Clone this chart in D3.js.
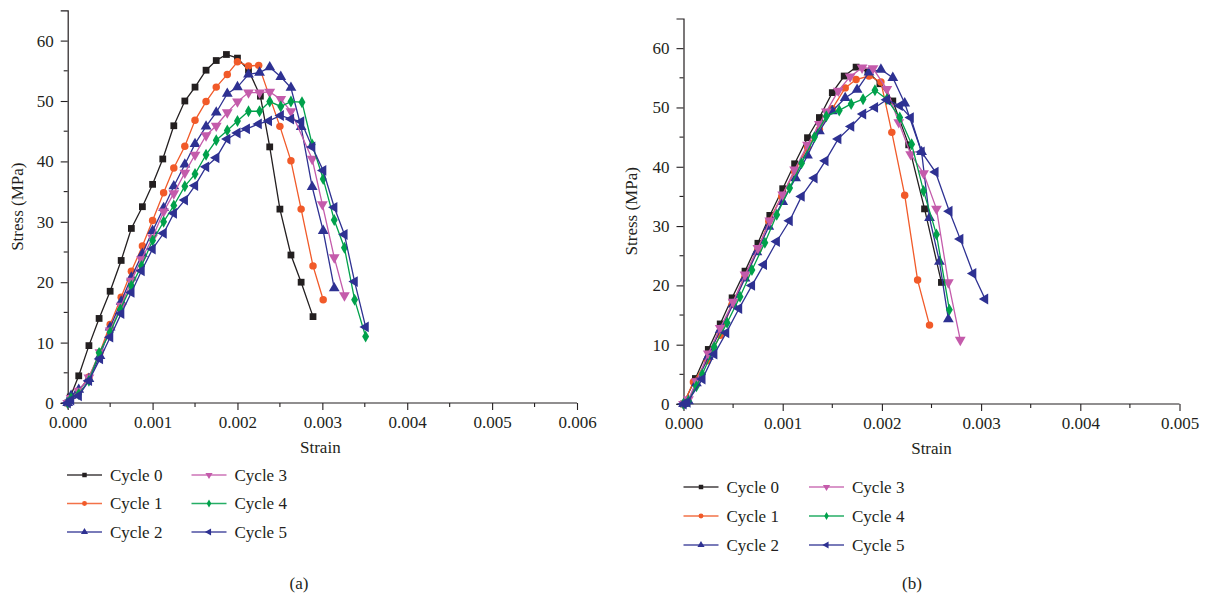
<!DOCTYPE html>
<html lang="en">
<head>
<meta charset="UTF-8">
<title>Stress-strain cycles</title>
<script src="https://d3js.org/d3.v7.min.js"></script>
<style>
  body { margin: 0; background: #fff; }
  svg { display: block; }
  svg text { font-family: "Liberation Serif", "Times New Roman", Times, "DejaVu Serif", serif !important; fill: #231f20; }
</style>
</head>
<body>
<svg id="chart" width="1207" height="597"></svg>
<script>
// ---- data ----
var cycleNames = ["Cycle 0", "Cycle 1", "Cycle 2", "Cycle 3", "Cycle 4", "Cycle 5"];
var cycleColors = ["#231f20", "#f15a29", "#2e3192", "#c45bab", "#00a14b", "#2e3192"];
var cycleSymbols = ["square", "circle", "triUp", "triDown", "diamond", "triLeft"];

var xTicksA = [0, 0.001, 0.002, 0.003, 0.004, 0.005, 0.006];
var xTicksB = [0, 0.001, 0.002, 0.003, 0.004, 0.005];
var yTicks = [0, 10, 20, 30, 40, 50, 60];

// (a)  [strain, stress MPa]
var a0 = [[0,0],[0.00003,1.0],[0.00013,4.5],[0.00025,9.5],[0.00037,14.0],[0.0005,18.5],[0.00063,23.6],[0.00075,28.9],[0.00088,32.5],[0.001,36.2],[0.00112,40.4],[0.00125,45.9],[0.00138,50.0],[0.0015,52.3],[0.00163,55.1],[0.00175,56.7],[0.00187,57.7],[0.002,57.1],[0.00213,55.1],[0.00227,50.8],[0.00238,42.4],[0.0025,32.1],[0.00263,24.5],[0.00275,20.0],[0.00289,14.3]];
var a1 = [[0,0],[0.00004,1.0],[0.00013,2.0],[0.00025,4.3],[0.00038,8.4],[0.0005,13.0],[0.00063,17.5],[0.00075,21.8],[0.00088,26.0],[0.001,30.2],[0.00113,34.8],[0.00125,38.9],[0.00138,42.5],[0.0015,46.8],[0.00163,49.9],[0.00175,52.3],[0.00188,54.4],[0.002,56.5],[0.00213,55.8],[0.00225,55.9],[0.0025,45.8],[0.00263,40.1],[0.00275,32.1],[0.00289,22.7],[0.00301,17.1]];
var a2 = [[0,0],[0.00004,1.2],[0.00013,2.2],[0.00025,4.0],[0.00038,7.8],[0.0005,12.5],[0.00063,16.8],[0.00075,20.8],[0.00088,24.7],[0.001,28.5],[0.00113,32.3],[0.00125,35.9],[0.00138,39.5],[0.0015,42.9],[0.00163,45.8],[0.00175,48.1],[0.00188,51.2],[0.002,52.3],[0.00213,54.4],[0.00226,54.7],[0.00238,55.6],[0.00251,54.0],[0.00263,52.2],[0.00275,45.7],[0.00288,35.8],[0.00301,28.5],[0.00314,19.0]];
var a3 = [[0,0],[0.00004,0.8],[0.00013,2.0],[0.00025,4.2],[0.00038,8.4],[0.0005,12.0],[0.00063,16.1],[0.00075,20.2],[0.00087,23.8],[0.001,27.4],[0.00113,31.7],[0.00125,34.7],[0.00138,38.1],[0.0015,41.1],[0.00163,44.3],[0.00175,45.9],[0.00188,48.1],[0.002,49.9],[0.00213,51.4],[0.00226,51.4],[0.00238,51.5],[0.00251,50.3],[0.00263,48.3],[0.00288,40.4],[0.003,32.9],[0.00314,24.1],[0.00326,17.8]];
var a4 = [[0,0],[0.00004,0.8],[0.00013,1.5],[0.00025,3.7],[0.00037,8.3],[0.0005,11.7],[0.00062,15.5],[0.00075,19.4],[0.00087,22.7],[0.001,26.9],[0.00113,30.0],[0.00125,32.7],[0.00138,35.9],[0.0015,37.9],[0.00163,41.1],[0.00175,43.5],[0.00188,45.1],[0.002,46.7],[0.00213,48.3],[0.00226,48.3],[0.00238,49.9],[0.00251,49.1],[0.00263,49.9],[0.00276,49.8],[0.00288,42.8],[0.00301,37.1],[0.00314,30.3],[0.00326,25.7],[0.00338,17.1],[0.00351,11.0]];
var a5 = [[0,0],[0.00004,0.5],[0.00013,1.2],[0.00025,3.7],[0.00038,7.3],[0.0005,10.9],[0.00063,14.8],[0.00075,18.3],[0.00087,21.9],[0.001,25.5],[0.00113,28.1],[0.00125,31.4],[0.00138,33.6],[0.0015,36.0],[0.00163,39.1],[0.00175,40.6],[0.00188,43.7],[0.002,44.7],[0.00211,45.4],[0.00225,46.2],[0.00237,46.7],[0.00251,47.6],[0.00263,47.0],[0.00275,46.6],[0.00288,42.4],[0.00301,38.5],[0.00314,32.4],[0.00326,27.9],[0.00338,20.1],[0.00351,12.6]];

// (b)
var b0 = [[0,0],[0.00012,4.3],[0.00025,9.2],[0.00037,13.5],[0.00049,17.9],[0.00062,22.4],[0.00075,27.1],[0.00087,31.8],[0.001,36.3],[0.00112,40.5],[0.00125,44.9],[0.00137,48.3],[0.0015,52.5],[0.00162,55.3],[0.00174,56.8],[0.00186,56.0],[0.00198,54.0],[0.00211,51.1],[0.00227,43.7],[0.00243,32.9],[0.0026,20.5]];
var b1 = [[0,0],[0.0001,3.7],[0.00024,7.3],[0.00037,11.6],[0.00049,16.8],[0.00062,21.4],[0.00075,26.0],[0.00086,30.8],[0.00099,35.0],[0.00112,39.2],[0.00125,43.3],[0.00137,46.3],[0.0015,49.8],[0.00163,53.3],[0.00174,54.7],[0.00187,55.3],[0.00199,54.3],[0.0021,45.8],[0.00223,35.2],[0.00236,20.9],[0.00248,13.3]];
var b2 = [[0,0],[0.00005,0.5],[0.00013,3.5],[0.00025,8.0],[0.00037,12.5],[0.0005,16.8],[0.00062,21.2],[0.00074,25.6],[0.00086,29.9],[0.001,34.1],[0.00113,38.1],[0.00125,41.9],[0.00137,46.0],[0.0015,49.4],[0.00163,51.6],[0.00175,53.0],[0.00187,55.9],[0.00199,56.4],[0.00211,55.0],[0.00223,50.7],[0.0024,42.5],[0.00248,31.4],[0.00258,24.0],[0.00267,14.3]];
var b3 = [[0,0],[0.00005,0.8],[0.00013,3.8],[0.00025,8.5],[0.00037,12.8],[0.0005,17.2],[0.00062,21.8],[0.00075,26.3],[0.00087,30.9],[0.001,35.3],[0.00112,39.5],[0.00125,43.7],[0.00137,47.2],[0.00144,49.3],[0.00156,52.8],[0.00168,55.2],[0.0018,56.7],[0.00191,56.6],[0.00205,53.1],[0.00217,47.5],[0.00229,42.1],[0.00242,38.9],[0.00255,32.9],[0.00267,20.5],[0.00279,10.8]];
var b4 = [[0,0],[0.00005,0.5],[0.00013,3.0],[0.00019,5.0],[0.00031,9.6],[0.00044,13.7],[0.00057,18.1],[0.00069,22.6],[0.00082,27.2],[0.00094,31.9],[0.00107,36.4],[0.00119,40.6],[0.00132,45.0],[0.00144,48.5],[0.00157,49.5],[0.00169,50.6],[0.00181,51.4],[0.00193,52.9],[0.00205,51.4],[0.00218,48.3],[0.0023,43.8],[0.00242,35.9],[0.00255,28.6],[0.00268,15.9]];
var b5 = [[0,0],[0.00004,0.3],[0.00019,4.2],[0.00031,8.4],[0.00043,12.0],[0.00056,16.1],[0.00069,20.0],[0.00081,23.5],[0.00094,27.4],[0.00107,30.9],[0.00119,35.0],[0.00132,38.1],[0.00143,41.0],[0.00156,44.7],[0.00169,46.8],[0.00181,48.9],[0.00193,50.0],[0.00205,51.3],[0.00218,50.3],[0.00229,48.3],[0.0024,42.5],[0.00254,39.1],[0.00268,32.5],[0.00279,27.8],[0.00292,22.0],[0.00304,17.7]];

var FONT = "'Liberation Serif', 'Times New Roman', Times, 'DejaVu Serif', serif";
var svg = d3.select("#chart").attr("font-family", FONT);

function markerPath(kind, size) {
    var t = d3.symbolTriangle;
    if (kind == "square") return {d: d3.symbol(d3.symbolSquare, size)(), rot: 0};
    if (kind == "circle") return {d: d3.symbol(d3.symbolCircle, size * 0.95)(), rot: 0};
    if (kind == "diamond") return {d: d3.symbol(d3.symbolDiamond, size * 0.9)(), rot: 0};
    if (kind == "triUp") return {d: d3.symbol(t, size * 1.1)(), rot: 0};
    if (kind == "triDown") return {d: d3.symbol(t, size * 1.1)(), rot: 180};
    if (kind == "triLeft") return {d: d3.symbol(t, size * 1.1)(), rot: -90};
}

function drawPanel(opt) {
    var x = d3.scaleLinear().domain([0, opt.xmax]).range([opt.x0, opt.x1]);
    var y = d3.scaleLinear().domain([0, 65]).range([opt.y0, opt.y1]);
    var g = svg.append("g");

    // axes
    var xAxis = d3.axisBottom(x).tickValues(opt.xticks).tickFormat(d3.format(".3f")).tickSize(7).tickPadding(6);
    var gx = g.append("g").attr("transform", "translate(0," + opt.y0 + ")").call(xAxis);
    var yAxis = d3.axisLeft(y).tickValues(yTicks).tickSize(7).tickPadding(7);
    var gy = g.append("g").attr("transform", "translate(" + opt.x0 + ",0)").call(yAxis);
    [gx, gy].forEach(function (a) {
        a.attr("font-family", FONT).attr("font-size", 17);
        a.select(".domain").attr("stroke", "#231f20").attr("stroke-width", 1.2);
        a.selectAll(".tick line").attr("stroke", "#231f20").attr("stroke-width", 1.1);
        a.selectAll("text").attr("fill", "#231f20");
    });
    gx.select(".domain").attr("d", "M" + (opt.x0 - 7) + ",0H" + opt.x1);
    // minor ticks
    var xMinor = d3.range(0.0005, opt.xmax, 0.001);
    g.selectAll(".xminor").data(xMinor).enter().append("line")
        .attr("x1", d => x(d)).attr("x2", d => x(d))
        .attr("y1", opt.y0).attr("y2", opt.y0 + 4)
        .attr("stroke", "#231f20").attr("stroke-width", 1.1);
    g.selectAll(".yminor").data([5, 15, 25, 35, 45, 55]).enter().append("line")
        .attr("x1", opt.x0).attr("x2", opt.x0 - 4)
        .attr("y1", d => y(d)).attr("y2", d => y(d))
        .attr("stroke", "#231f20").attr("stroke-width", 1.1);

    g.append("text").attr("x", (opt.x0 + opt.x1) / 2 - (opt.xmax == 0.006 ? 2 : 0)).attr("y", opt.y0 + 50)
        .attr("text-anchor", "middle").attr("font-size", 17).text("Strain");
    g.append("text").attr("transform", "translate(" + opt.ylabX + "," + (opt.y0 + opt.y1) / 2 + ") rotate(-90)")
        .attr("text-anchor", "middle").attr("dy", "0.35em").attr("font-size", 17).text("Stress (MPa)");

    var line = d3.line().x(d => x(d[0])).y(d => y(d[1]));
    opt.series.forEach(function (s, i) {
        g.append("path").datum(s).attr("d", line).attr("fill", "none")
            .attr("stroke", cycleColors[i]).attr("stroke-width", 1.3);
        var m = markerPath(cycleSymbols[i], 46);
        g.selectAll(null).data(s).enter().append("path")
            .attr("d", m.d)
            .attr("transform", d => "translate(" + x(d[0]) + "," + y(d[1]) + ") rotate(" + m.rot + ")")
            .attr("fill", cycleColors[i]);
    });

    // legend
    var lg = g.append("g");
    cycleNames.forEach(function (name, i) {
        var col = Math.floor(i / 3), row = i % 3;
        var lx = opt.legX + col * opt.legColW, ly = opt.legY + row * opt.legRowH;
        lg.append("line").attr("x1", lx).attr("x2", lx + 35).attr("y1", ly).attr("y2", ly)
            .attr("stroke", cycleColors[i]).attr("stroke-width", 1.5).attr("opacity", 0.85);
        var m = markerPath(cycleSymbols[i], 20);
        lg.append("path").attr("d", m.d)
            .attr("transform", "translate(" + (lx + 17.5) + "," + ly + ") rotate(" + m.rot + ")")
            .attr("fill", cycleColors[i]);
        lg.append("text").attr("x", lx + 43).attr("y", ly).attr("dy", "0.33em")
            .attr("font-size", 17).text(name);
    });

    g.append("text").attr("x", opt.capX).attr("y", 589).attr("text-anchor", "middle")
        .attr("font-size", 17).text(opt.caption);
}

drawPanel({
    xmax: 0.006, xticks: xTicksA, x0: 67.7, x1: 577, y0: 403, y1: 10.4,
    series: [a0, a1, a2, a3, a4, a5], ylabX: 17,
    legX: 67, legY: 475, legColW: 124.5, legRowH: 28.5, capX: 299, caption: "(a)"
});
drawPanel({
    xmax: 0.005, xticks: xTicksB, x0: 683.5, x1: 1179.5, y0: 404, y1: 18.5,
    series: [b0, b1, b2, b3, b4, b5], ylabX: 631,
    legX: 683.5, legY: 487, legColW: 125.5, legRowH: 29, capX: 912, caption: "(b)"
});
</script>
</body>
</html>
